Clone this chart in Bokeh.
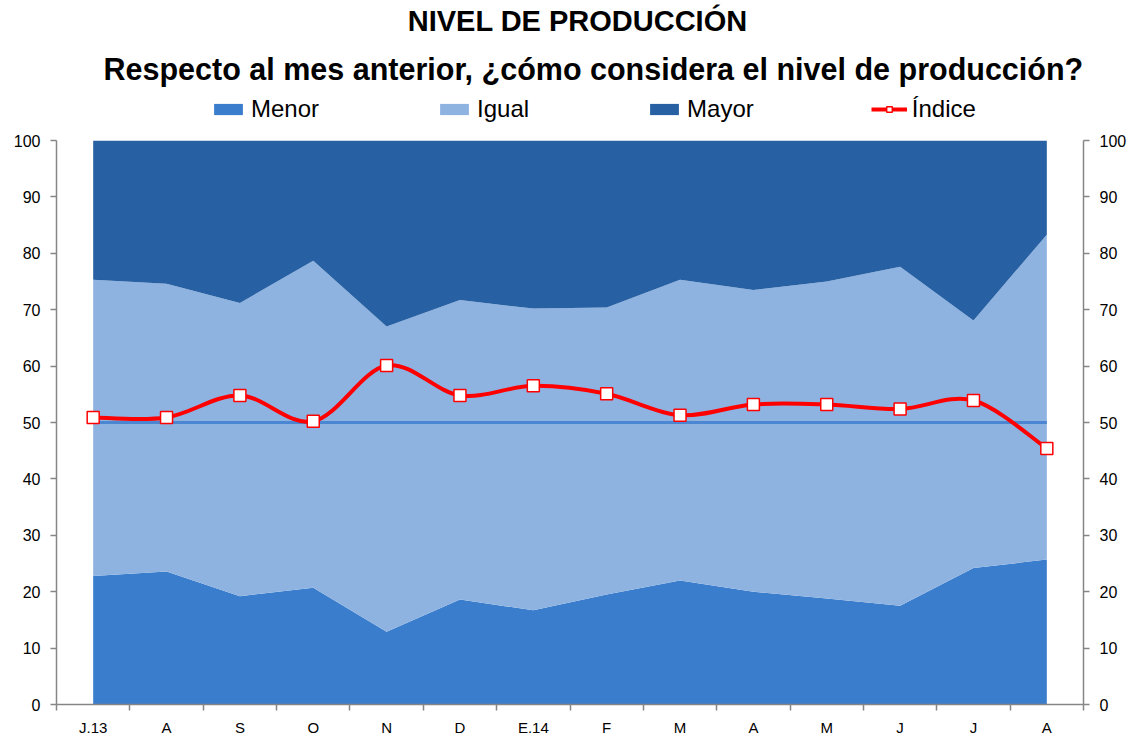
from bokeh.plotting import figure
from bokeh.models import (ColumnDataSource, Legend, LegendItem, LinearAxis, FixedTicker,
                          Range1d, Label)
from bokeh.layouts import column
from bokeh.embed import file_html
from bokeh.resources import INLINE

# ---------------- data ----------------
months = ["J.13", "A", "S", "O", "N", "D", "E.14", "F", "M", "A", "M", "J", "J", "A"]
menor = [22.8, 23.6, 19.2, 20.7, 12.9, 18.6, 16.7, 19.5, 22.0, 20.0, 18.8, 17.5, 24.2, 25.7]
igual = [52.5, 51.0, 52.0, 58.0, 54.1, 53.1, 53.5, 50.9, 53.3, 53.5, 56.2, 60.1, 43.9, 57.6]
mayor = [24.7, 25.4, 28.8, 21.3, 33.0, 28.3, 29.8, 29.6, 24.7, 26.5, 25.0, 22.4, 31.9, 16.7]
indice = [50.9, 50.9, 54.8, 50.2, 60.1, 54.8, 56.5, 55.1, 51.3, 53.2, 53.2, 52.4, 53.9, 45.4]
ref50 = [50, 50, 50, 50, 50, 50, 50, 50, 50, 50, 50, 50, 50, 50]
y_ticks = [0, 10, 20, 30, 40, 50, 60, 70, 80, 90, 100]
series_names = ["Menor", "Igual", "Mayor", "Índice"]
title_text = "NIVEL DE PRODUCCIÓN"
subtitle_text = "Respecto al mes anterior, ¿cómo considera  el nivel de producción?"

FONT = "Liberation Sans"
C_MENOR = "#3B7DCD"
C_IGUAL = "#8EB3E1"
C_MAYOR = "#2761A3"
C_REF = "#4A86D1"
C_RED = "#FF0000"
AXIS_C = "#868686"
W = 1135
HEAD_H = 130
NAN = float("nan")

xs = list(range(len(months)))
src = ColumnDataSource(dict(x=xs, menor=menor, igual=igual, mayor=mayor,
                            indice=indice, ref50=ref50))

# ---------------- chart ----------------
p = figure(width=W, height=608, output_backend="svg", toolbar_location=None,
           x_range=Range1d(-0.5, len(months) - 0.5), y_range=Range1d(0, 100),
           min_border_left=56, min_border_right=W - 1083, min_border_top=10,
           min_border_bottom=32, x_axis_location=None, y_axis_location=None)
p.outline_line_color = None
p.xgrid.visible = False
p.ygrid.visible = False

p.varea_stack(stackers=["menor", "igual", "mayor"], x="x", source=src,
              color=[C_MENOR, C_IGUAL, C_MAYOR])
p.line("x", "ref50", source=src, line_color=C_REF, line_width=3)

# smoothed index line (Catmull-Rom -> cubic Bezier segments, built from the data)
n = len(indice)
bz = dict(x0=[], y0=[], x1=[], y1=[], cx0=[], cy0=[], cx1=[], cy1=[])
for i in range(n - 1):
    im, ia, ib, inn = max(i - 1, 0), i, i + 1, min(i + 2, n - 1)
    bz["x0"].append(xs[ia]); bz["y0"].append(indice[ia])
    bz["x1"].append(xs[ib]); bz["y1"].append(indice[ib])
    bz["cx0"].append(xs[ia] + (xs[ib] - xs[im]) / 6)
    bz["cy0"].append(indice[ia] + (indice[ib] - indice[im]) / 6)
    bz["cx1"].append(xs[ib] - (xs[inn] - xs[ia]) / 6)
    bz["cy1"].append(indice[ib] - (indice[inn] - indice[ia]) / 6)
p.bezier(source=ColumnDataSource(bz), x0="x0", y0="y0", x1="x1", y1="y1",
         cx0="cx0", cy0="cy0", cx1="cx1", cy1="cy1", line_color=C_RED, line_width=4)
p.scatter("x", "indice", source=src, marker="square", size=12,
          fill_color="white", line_color=C_RED, line_width=1.5)


def style_y(ax):
    ax.ticker = FixedTicker(ticks=y_ticks)
    ax.axis_line_color = AXIS_C
    ax.axis_line_width = 1.5
    ax.major_tick_line_color = AXIS_C
    ax.major_tick_line_width = 1.5
    ax.major_tick_out = 6
    ax.major_tick_in = 0
    ax.minor_tick_line_color = None
    ax.major_label_text_font = FONT
    ax.major_label_text_font_size = "16px"
    ax.major_label_text_color = "#000000"
    ax.major_label_standoff = 10


yl = LinearAxis()
style_y(yl)
p.add_layout(yl, "left")
yr = LinearAxis()
style_y(yr)
p.add_layout(yr, "right")

xa = LinearAxis()
xa.ticker = FixedTicker(ticks=xs, minor_ticks=[i - 0.5 for i in range(len(months) + 1)])
xa.major_label_overrides = {i: m for i, m in enumerate(months)}
xa.axis_line_color = AXIS_C
xa.axis_line_width = 1.5
xa.major_tick_line_color = None
xa.major_tick_out = 0
xa.major_tick_in = 0
xa.minor_tick_line_color = AXIS_C
xa.minor_tick_line_width = 1.5
xa.minor_tick_out = 6
xa.minor_tick_in = 0
xa.major_label_text_font = FONT
xa.major_label_text_font_size = "15px"
xa.major_label_text_color = "#000000"
xa.major_label_standoff = 8
p.add_layout(xa, "below")

# ---------------- header: titles + legend ----------------
h = figure(width=W, height=HEAD_H, output_backend="svg", toolbar_location=None,
           x_range=Range1d(0, W), y_range=Range1d(HEAD_H, 0),
           min_border=0, min_border_left=0, min_border_right=0,
           min_border_top=0, min_border_bottom=0,
           x_axis_location=None, y_axis_location=None)
h.outline_line_color = None
h.xgrid.visible = False
h.ygrid.visible = False

h.add_layout(Label(x=576, y=20, text=title_text, text_align="center",
                   text_baseline="middle", text_font=FONT, text_font_size="29px",
                   text_font_style="bold", text_color="#000000"))
h.add_layout(Label(x=598, y=68, text=subtitle_text, text_align="center",
                   text_baseline="middle", text_font=FONT, text_font_size="30.5px",
                   text_font_style="bold", text_color="#000000"))

# legend keys share the chart's styling (key renderers hold no visible data)
k_menor = h.varea(x=[NAN], y1=[NAN], y2=[NAN], color=C_MENOR)
k_igual = h.varea(x=[NAN], y1=[NAN], y2=[NAN], color=C_IGUAL)
k_mayor = h.varea(x=[NAN], y1=[NAN], y2=[NAN], color=C_MAYOR)
k_line = h.line(x=[NAN], y=[NAN], line_color=C_RED, line_width=4)
k_mark = h.scatter(x=[NAN], y=[NAN], marker="square", size=12, fill_color="white",
                   line_color=C_RED, line_width=1.5)
legend = Legend(items=[
    LegendItem(label=series_names[0], renderers=[k_menor]),
    LegendItem(label=series_names[1], renderers=[k_igual]),
    LegendItem(label=series_names[2], renderers=[k_mayor]),
    LegendItem(label=series_names[3], renderers=[k_line, k_mark]),
], orientation="horizontal", location=(154, 7), glyph_width=36, glyph_height=14,
    label_standoff=5, spacing=117, padding=0, margin=0,
    label_text_font=FONT, label_text_font_size="24px", label_text_color="#000000",
    border_line_color=None, background_fill_alpha=0)
h.add_layout(legend, "center")

layout = column(h, p, spacing=0)
open("out.html", "w").write(file_html(layout, INLINE))
